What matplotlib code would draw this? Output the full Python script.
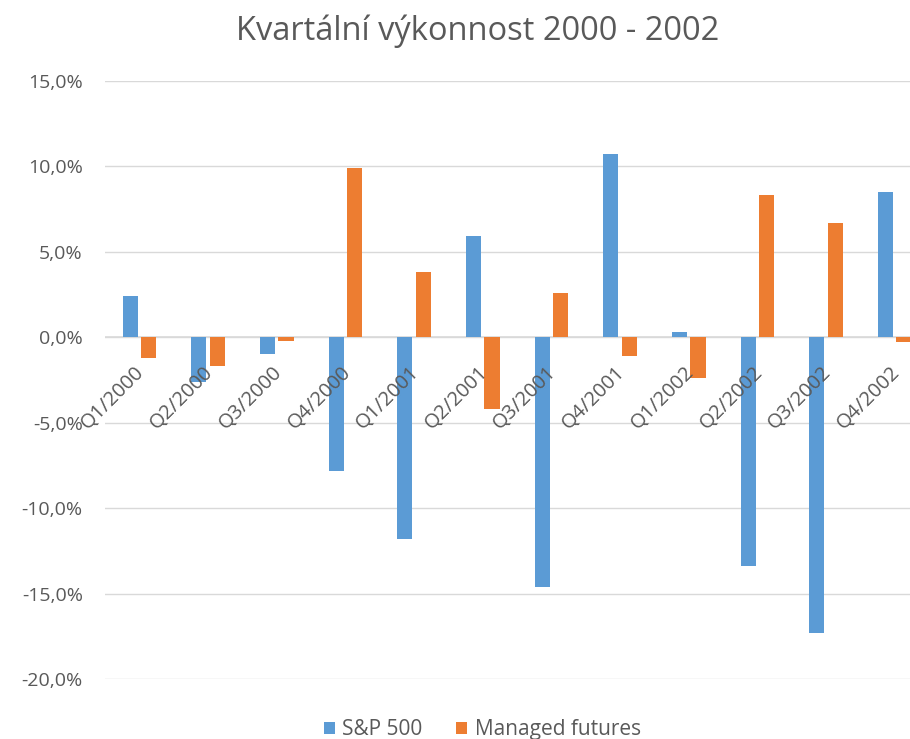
import matplotlib
matplotlib.use("Agg")
import matplotlib.pyplot as plt
import numpy as np

categories = ["Q1/2000", "Q2/2000", "Q3/2000", "Q4/2000",
              "Q1/2001", "Q2/2001", "Q3/2001", "Q4/2001",
              "Q1/2002", "Q2/2002", "Q3/2002", "Q4/2002"]
sp500 = [2.4, -2.6, -1.0, -7.8, -11.8, 5.9, -14.6, 10.7, 0.3, -13.4, -17.3, 8.5]
managed_futures = [-1.2, -1.7, -0.2, 9.9, 3.8, -4.2, 2.6, -1.1, -2.4, 8.3, 6.7, -0.3]
yticks = [-20, -15, -10, -5, 0, 5, 10, 15]
title = "Kvartální výkonnost 2000 - 2002"

plt.rcParams['font.family'] = ['Open Sans', 'DejaVu Sans']
gray = "#595959"

fig = plt.figure(figsize=(9.1, 7.39), dpi=100)
ax = fig.add_axes([0.1154, 0.0812, 0.9055, 0.8092])

x = np.arange(len(categories))
w = 0.22
gap = 0.05
ax.bar(x - w/2 - gap/2, sp500, width=w, color="#5B9BD5", label="S&P 500", zorder=3)
ax.bar(x + w/2 + gap/2, managed_futures, width=w, color="#ED7D31", label="Managed futures", zorder=3)

ax.set_xlim(-0.5, len(categories) - 0.5)
ax.set_ylim(-20, 15)
ax.set_yticks(yticks)
ax.set_yticklabels([f"{v:.1f}%".replace(".", ",") for v in yticks], color=gray, fontsize=14)
ax.tick_params(axis='y', length=0, pad=16)
ax.yaxis.grid(True, color="#D9D9D9", linewidth=1, zorder=0)
ax.axhline(0, color="#D9D9D9", linewidth=1.2, zorder=2)
ax.set_xticks([])
for s in ax.spines.values():
    s.set_visible(False)

for i, lab in enumerate(categories):
    ax.annotate(lab, xy=(i, 0), xycoords='data', xytext=(-3.5, -18), textcoords='offset points',
                rotation=45, ha='right', va='top', rotation_mode='anchor',
                color=gray, fontsize=14.5, zorder=4)

fig.text(0.525, 0.98, title, fontsize=23.5, color=gray, ha='center', va='top')
fig.legend(loc='lower center', bbox_to_anchor=(0.53, -0.027), ncol=2, frameon=False,
           fontsize=15, labelcolor=gray, handlelength=0.55, handleheight=0.55,
           handletextpad=0.35, columnspacing=1.6)

fig.savefig("out.png", dpi=100)
